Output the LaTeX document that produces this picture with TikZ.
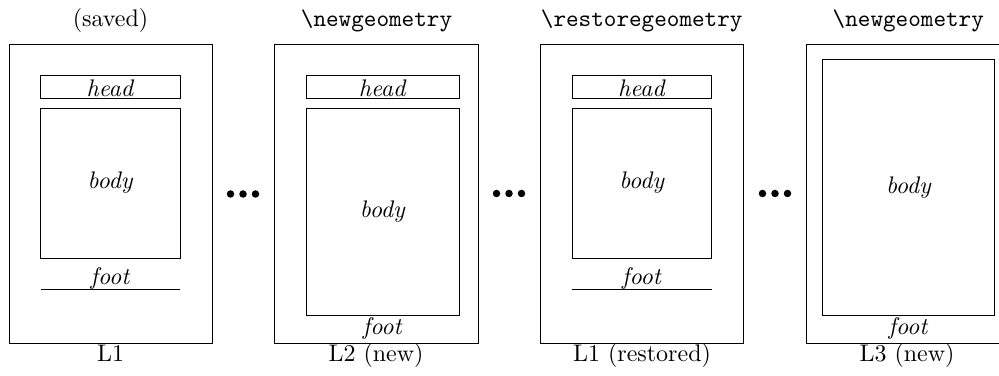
\documentclass[tikz,border=0pt]{standalone}
\begin{document}
\def\u{0.41667pt}
\begin{tikzpicture}[x=0.41667pt,y=-0.41667pt,
  box/.style={draw,line width=0.4pt,inner sep=0pt,outer sep=0pt},
  sz/.style 2 args={minimum width={#1*\u},minimum height={#2*\u}},
  lbl/.style={anchor=base,inner sep=0pt},
  dotmark/.style={circle,fill,inner sep=0pt,minimum size={7.5*\u}}]
\useasboundingbox (0,0) rectangle (999,376);
\clip (0,0) rectangle (999,376);
% page 1
\node[box,sz={203}{299}] (p1) at (110.5,193.5) {};
\node[box,sz={139.6}{22.7}] (h1) at (110.5,87.3) {};
\node[lbl] (h1t) at (110.5,96.5) {\textit{head}};
\node[box,sz={139.6}{150}] (b1) at (110.5,183) {\textit{body}};
\node[lbl] (f1t) at (110.5,285) {\textit{foot}};
\coordinate (f1l) at (40.7,289); \coordinate (f1r) at (180.3,289);
\draw (f1l) -- (f1r);
\node[lbl] (t1) at (110.5,27) {(saved)};
\node[lbl] (c1) at (110.5,361.7) {L1};
% dots 1
\node[dotmark] (d11) at (230.5,194) {};
\node[dotmark] (d12) at (243,194) {};
\node[dotmark] (d13) at (255.5,194) {};
% page 2
\node[box,sz={204}{299}] (p2) at (376.3,193.5) {};
\node[box,sz={152.7}{22.7}] (h2) at (382.7,87.3) {};
\node[lbl] (h2t) at (382.7,96.5) {\textit{head}};
\node[box,sz={152.7}{207}] (b2) at (382.7,211.5) {\textit{body}};
\node[lbl] (f2t) at (382.7,335) {\textit{foot}};
\node[lbl] (t2) at (376.5,27) {\texttt{\string\newgeometry}};
\node[lbl] (c2) at (376,361.7) {L2 (new)};
% dots 2
\node[dotmark] (d21) at (496.5,193.5) {};
\node[dotmark] (d22) at (509,193.5) {};
\node[dotmark] (d23) at (521.5,193.5) {};
% page 3
\node[box,sz={203}{299}] (p3) at (642.2,193.5) {};
\node[box,sz={139.4}{22.7}] (h3) at (642,87.3) {};
\node[lbl] (h3t) at (642,96.5) {\textit{head}};
\node[box,sz={139.4}{150}] (b3) at (642,183) {\textit{body}};
\node[lbl] (f3t) at (642,285) {\textit{foot}};
\coordinate (f3l) at (572.3,289); \coordinate (f3r) at (711.7,289);
\draw (f3l) -- (f3r);
\node[lbl] (t3) at (641.7,27) {\texttt{\string\restoregeometry}};
\node[lbl] (c3) at (642,361.7) {L1 (restored)};
% dots 3
\node[dotmark] (d31) at (762.5,193.5) {};
\node[dotmark] (d32) at (775,193.5) {};
\node[dotmark] (d33) at (787.5,193.5) {};
% page 4
\node[box,sz={203}{299}] (p4) at (907.8,193.5) {};
\node[box,sz={171.7}{255.7}] (b4) at (908.8,187.2) {\textit{body}};
\node[lbl] (f4t) at (908.5,335) {\textit{foot}};
\node[lbl] (t4) at (908.3,27) {\texttt{\string\newgeometry}};
\node[lbl] (c4) at (907,361.7) {L3 (new)};
\end{tikzpicture}
\end{document}
